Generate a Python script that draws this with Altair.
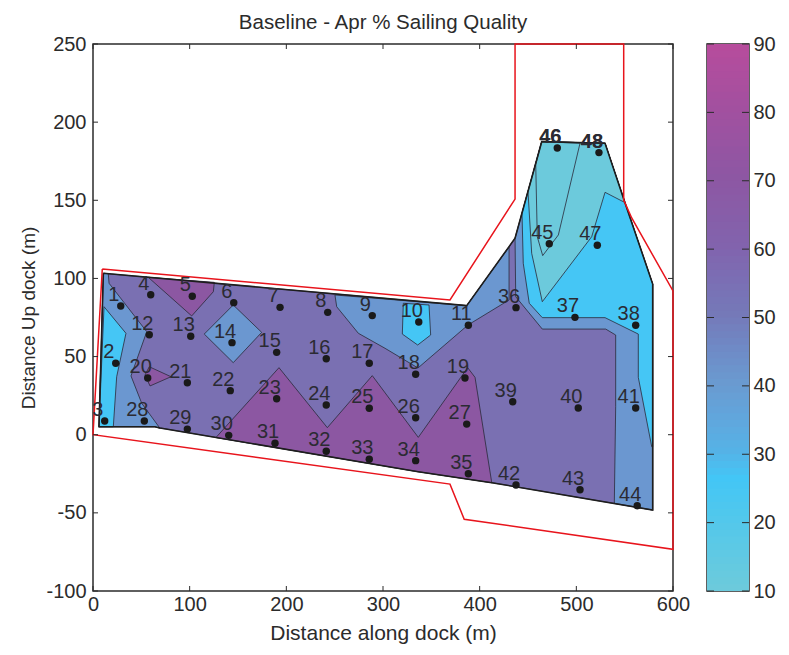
import altair as alt
import pandas as pd

# Measurement points
point_labels = [str(i) for i in range(1, 49)]
point_x = [28.7, 23.5, 12.1, 59.7, 102.7, 145.6, 193.5, 242.8, 288.9, 337, 388.3, 58.2,
           101.1, 143.8, 190, 241.3, 285.8, 333.8, 384.8, 56.6, 97.6, 142, 190, 241.3,
           285.8, 333.8, 386.6, 53.1, 97.6, 140.4, 188.3, 241.3, 285.8, 333.8, 388.3, 437.6,
           498.6, 561.4, 434.2, 502, 561.4, 437.6, 503.8, 563, 472, 480.3, 521.7, 523.4]
point_y = [82.4, 45.7, 8.8, 89.6, 88.6, 84.5, 81.5, 78.3, 76.2, 72.1, 70, 64,
           63, 58.9, 52.7, 48.6, 45.7, 38.7, 36.3, 36.3, 33.3, 28.2, 23, 19,
           16.9, 10.9, 6.8, 8.8, 3.6, -0.4, -5.5, -10.6, -15.7, -16.6, -25, 81.3,
           75.1, 70, 21.1, 17.1, 17.1, -32.2, -35.2, -45.4, 122.2, 183.5, 121.2, 180.5]
bold_labels = ["46", "48"]

# Red site boundary
red_x = [9.6, 369.3, 436.6, 436.6, 549, 549, 557.3, 600, 600, 384, 369.3, 0, 9.6]
red_y = [106, 86.2, 150.8, 250, 250, 150.2, 138.7, 92, -73.3, -54.1, -31.6, 0, 106]

# Contour bands, painted in order
TEAL, CYAN, LBLUE, BASE, PURPLE = "#6ccadc", "#45c6f5", "#6b97d0", "#7a70b2", "#8c57a2"

domain_x = [10.7, 386.6, 436.6, 464.2, 529.7, 550.4, 579, 579, 412.5, 336.5, 69.3, 64.1, 6.2]
domain_y = [103.3, 82.6, 125.7, 187.5, 186.5, 148.3, 96.4, -48.2, -30.7, -23.7, 4.3, 5.1, 5.1]

bands = [
    (BASE, domain_x, domain_y),
    (LBLUE, [10.7, 15.8, 16.6, 55.6, 39.3, 50.4, 69.3, 64.1, 6.2],
            [103.3, 103, 96.9, 65.9, 37.6, 20.1, 4.1, 5.1, 5.1]),
    (CYAN, [11.4, 34.1, 24.5, 21, 6.2], [81.9, 64.9, 37.1, 5.1, 5.1]),
    (PURPLE, [57.2, 125.5, 124.5, 102.1], [100.7, 97.5, 91.5, 76]),
    (LBLUE, [145.1, 174.5, 145.1, 115.1], [83, 65.5, 46.1, 64.4]),
    (PURPLE, [58.2, 80.7, 59, 53.8], [43.5, 37.1, 31.2, 38.2]),
    (PURPLE, [127.2, 192.4, 242.4, 288.9, 336.5, 387.6, 395.2, 412.5, 336.5],
             [-1.8, 42.9, 4.5, 37.8, -1.7, 42.9, 36.7, -30.7, -23.7]),
    (LBLUE, [250.3, 252.1, 274.5, 302.1, 336.2, 387.9, 430.4, 430.4, 386.6],
            [89.4, 81.9, 64.9, 55.3, 42.7, 70.2, 86.2, 120.1, 82.6]),
    (CYAN, [321, 320, 335.9, 349.3, 347.6], [84.1, 64.4, 57.4, 63.8, 83]),
    (LBLUE, [436.6, 437.3, 464.8, 530.4, 540.7, 540.7, 539.3, 579, 579, 550.4, 529.7, 464.2],
            [125.7, 88.3, 67.6, 67.6, 63.8, 17.9, -43.9, -48.2, 96.4, 148.3, 186.5, 187.5]),
    (CYAN, [443.8, 445.1, 451.3, 464.8, 529.7, 564.1, 564.1, 578, 579, 579, 550.4, 529.7, 464.2],
           [141.8, 109.7, 84.1, 74.9, 74.9, 64.4, 36.7, -7.7, -7.7, 96.4, 148.3, 186.5, 187.5]),
    (TEAL, [450, 453.8, 464.8, 515.9, 529.7, 550.4, 529.7, 464.2],
           [155.5, 116.1, 85.1, 126.7, 155.1, 148.5, 186.5, 187.5]),
    (TEAL, [458, 459.6, 465.2, 481.4, 503.8, 464.2],
           [173, 126.7, 114.6, 127.8, 186.5, 187.5]),
]

x_ticks = [0, 100, 200, 300, 400, 500, 600]
y_ticks = [-100, -50, 0, 50, 100, 150, 200, 250]
cbar_ticks = [10, 20, 30, 40, 50, 60, 70, 80, 90]
cbar_levels = list(range(10, 90))
cbar_stop_values = [10, 26, 30, 40, 50, 60, 70, 80, 90]
cbar_stop_colors = ["#6ccadc", "#43c6f6", "#55b2e6", "#6a9ad0", "#7579b8", "#8263ad",
                    "#8d57a3", "#a2509f", "#b84c9c"]

W, H = 580, 547
FONT = "Liberation Sans"
INK = "#2b2b2b"
TICK = 5

xs = alt.Scale(domain=[0, 600], nice=False, zero=False)
ys = alt.Scale(domain=[-100, 250], nice=False, zero=False)
X = alt.X("x:Q", scale=xs, axis=alt.Axis(values=x_ticks, title="Distance along dock (m)", grid=False,
                                         domain=False, tickSize=0, labelPadding=3, labelFontSize=20,
                                         titleFontSize=21, titleFontWeight="normal", labelColor=INK,
                                         titleColor=INK, labelFont=FONT, titleFont=FONT, titlePadding=8,
                                         labelOverlap=False, labelFlush=False))
Y = alt.Y("y:Q", scale=ys, axis=alt.Axis(values=y_ticks, title="Distance Up dock (m)", grid=False,
                                         domain=False, tickSize=0, labelPadding=7, labelFontSize=20,
                                         titleFontSize=19, titleFontWeight="normal", labelColor=INK,
                                         titleColor=INK, labelFont=FONT, titleFont=FONT, titlePadding=7,
                                         labelOverlap=False, labelExpr="'' + datum.value"))

layers = []
for col, bx, by in bands:
    df = pd.DataFrame({"x": bx + bx[:1], "y": by + by[:1], "o": range(len(bx) + 1)})
    layers.append(
        alt.Chart(df).mark_line(fill=col, stroke="#2a2a3a", strokeWidth=0.8, interpolate="linear")
        .encode(x=X, y=Y, order="o:Q")
    )

# Heavy outline of the contour domain
df_dom = pd.DataFrame({"x": domain_x + domain_x[:1], "y": domain_y + domain_y[:1],
                       "o": range(len(domain_x) + 1)})
layers.append(alt.Chart(df_dom).mark_line(stroke="#1e1e1e", strokeWidth=1.6)
              .encode(x=X, y=Y, order="o:Q"))

df_red = pd.DataFrame({"x": red_x, "y": red_y, "o": range(len(red_x))})
layers.append(alt.Chart(df_red).mark_line(stroke="#e8141c", strokeWidth=1.5, clip=False)
              .encode(x=X, y=Y, order="o:Q"))

df_pts = pd.DataFrame({"x": point_x, "y": point_y, "label": point_labels})
layers.append(alt.Chart(df_pts).mark_circle(size=55, color="#1a1a1a", opacity=1).encode(x=X, y=Y))
layers.append(alt.Chart(df_pts).mark_text(font=FONT, fontSize=20, color="#2b2b33", dx=-7, dy=-11)
              .encode(x=X, y=Y, text="label:N"))
df_bold = df_pts[df_pts["label"].isin(bold_labels)]
layers.append(alt.Chart(df_bold).mark_text(font=FONT, fontSize=20, fontWeight="bold", color="#2b2b33",
                                           dx=-7, dy=-11)
              .encode(x=X, y=Y, text="label:N"))

# Inward ticks
df_xt = pd.DataFrame({"x": x_ticks})
df_yt = pd.DataFrame({"y": y_ticks})
layers.append(alt.Chart(df_xt).mark_rule(color=INK, strokeWidth=1)
              .encode(x=X, y=alt.value(H), y2=alt.value(H - TICK)))
layers.append(alt.Chart(df_xt).mark_rule(color=INK, strokeWidth=1)
              .encode(x=X, y=alt.value(0), y2=alt.value(TICK)))
layers.append(alt.Chart(df_yt).mark_rule(color=INK, strokeWidth=1)
              .encode(y=Y, x=alt.value(0), x2=alt.value(TICK)))
layers.append(alt.Chart(df_yt).mark_rule(color=INK, strokeWidth=1)
              .encode(y=Y, x=alt.value(W), x2=alt.value(W - TICK)))

main = alt.layer(*layers).properties(
    width=W, height=H,
    title=alt.TitleParams("Baseline - Apr % Sailing Quality", font=FONT, fontSize=20.5, fontWeight="normal",
                          color=INK, anchor="middle", offset=1),
)

# Colour bar
CW = 42
cs = alt.Scale(domain=[10, 90], nice=False, zero=False)
CY = alt.Y("v:Q", scale=cs, axis=alt.Axis(values=cbar_ticks, orient="right", title=None, grid=False,
                                          domain=False, tickSize=0, labelPadding=4, labelFontSize=20,
                                          labelColor=INK, labelFont=FONT, labelOverlap=False))
df_cb = pd.DataFrame({"v": cbar_levels, "v2": [min(v + 2, 90) for v in cbar_levels]})
cbar_rect = alt.Chart(df_cb).mark_rect().encode(
    x=alt.value(0), x2=alt.value(CW),
    y=CY,
    y2="v2:Q",
    color=alt.Color("v:Q", legend=None, scale=alt.Scale(domain=cbar_stop_values, range=cbar_stop_colors)),
)
df_ct = pd.DataFrame({"v": cbar_ticks})
cbar_t1 = alt.Chart(df_ct).mark_rule(color=INK, strokeWidth=1).encode(
    y=CY, x=alt.value(0), x2=alt.value(7))
cbar_t2 = alt.Chart(df_ct).mark_rule(color=INK, strokeWidth=1).encode(
    y=CY, x=alt.value(CW), x2=alt.value(CW - 7))
cbar = alt.layer(cbar_rect, cbar_t1, cbar_t2).properties(width=CW, height=H)

chart = (
    alt.hconcat(main, cbar, spacing=14)
    .resolve_scale(x="independent", y="independent", color="independent")
    .properties(padding={"left": 11, "top": 3, "right": 0, "bottom": 0}, background="white")
    .configure_view(stroke=INK, strokeWidth=1.5)
)
chart.save("out.html", embed_options={"renderer": "svg", "actions": False})
